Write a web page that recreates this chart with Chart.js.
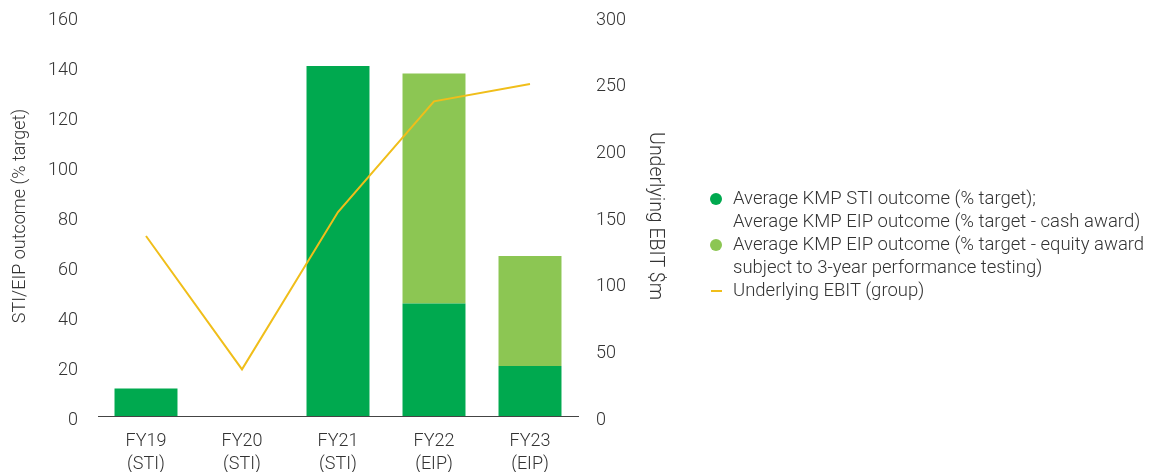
<!DOCTYPE html>
<html>
<head>
<meta charset="utf-8">
<script src="https://cdn.jsdelivr.net/npm/chart.js@4.4.1/dist/chart.umd.min.js"></script>
<style>
  html, body { margin: 0; padding: 0; background: #fff; }
  #wrap { position: relative; width: 1150px; height: 472px; overflow: hidden; }
  #c { position: absolute; left: 0; top: 0; }
  #legend { position: absolute; left: 708px; top: 187px; font-family: Roboto, "Liberation Sans", sans-serif; font-weight: 300; font-size: 18.5px; color: #333; line-height: 23px; white-space: nowrap; }
  .item { position: relative; padding-left: 25px; }
  .dot { position: absolute; left: 2px; top: 6px; width: 12px; height: 12px; border-radius: 50%; }
  .dash { position: absolute; left: 3px; top: 11px; width: 11px; height: 2px; }
</style>
</head>
<body>
<div id="wrap">
  <canvas id="c" width="1150" height="472"></canvas>
  <div id="legend"></div>
</div>
<script>
const categories = [["FY19", "(STI)"], ["FY20", "(STI)"], ["FY21", "(STI)"], ["FY22", "(EIP)"], ["FY23", "(EIP)"]];
const cashOutcome = [11, 0, 140, 45, 20];
const equityOutcome = [0, 0, 0, 92, 44];
const ebit = [135, 35, 153, 236, 249];
const seriesNames = [
  ["Average KMP STI outcome (% target);", "Average KMP EIP outcome (% target - cash award)"],
  ["Average KMP EIP outcome (% target - equity award", "subject to 3-year performance testing)"],
  ["Underlying EBIT (group)"]
];
const leftTitle = "STI/EIP outcome (% target)";
const rightTitle = "Underlying EBIT $m";

const colors = { dark: "#00A94F", light: "#8CC653", line: "#F0BE1A", text: "#333333", axis: "#444444" };
const fontFamily = 'Roboto, "Liberation Sans", sans-serif';

Chart.defaults.font.family = fontFamily;
Chart.defaults.font.weight = 300;
Chart.defaults.color = colors.text;

new Chart(document.getElementById("c"), {
  data: {
    labels: categories,
    datasets: [
      { type: "line", label: seriesNames[2].join(" "), data: ebit, yAxisID: "y1", borderColor: colors.line, borderWidth: 2, pointRadius: 0, tension: 0, fill: false, order: 0 },
      { type: "bar", label: seriesNames[0].join(" "), data: cashOutcome, backgroundColor: colors.dark, yAxisID: "y", stack: "s", order: 1, categoryPercentage: 1, barPercentage: 0.656 },
      { type: "bar", label: seriesNames[1].join(" "), data: equityOutcome, backgroundColor: colors.light, yAxisID: "y", stack: "s", order: 1, categoryPercentage: 1, barPercentage: 0.656 }
    ]
  },
  options: {
    responsive: false,
    animation: false,
    layout: { padding: { top: 16, right: 472, left: 0, bottom: 0 } },
    plugins: { legend: { display: false }, tooltip: { enabled: false } },
    scales: {
      x: {
        stacked: true,
        grid: { display: false, drawTicks: false },
        border: { display: true, color: colors.axis, width: 1 },
        ticks: { font: { size: 18, lineHeight: 1.28 }, padding: 14, maxRotation: 0, color: colors.text },
        afterFit: (s) => { s.height = 56; s.paddingLeft = 0; s.paddingRight = 0; }
      },
      y: {
        position: "left",
        stacked: true,
        min: 0, max: 160,
        grid: { display: false, drawTicks: false },
        border: { display: false },
        ticks: { stepSize: 20, font: { size: 18 }, padding: 20, labelOffset: 4, color: colors.text },
        title: { display: true, text: leftTitle, font: { size: 18 }, padding: { top: 10, bottom: 0 }, color: colors.text },
        afterFit: (s) => { s.width = 98; s.paddingTop = 0; s.paddingBottom = 0; }
      },
      y1: {
        position: "right",
        min: 0, max: 300,
        grid: { display: false, drawTicks: false },
        border: { display: false },
        ticks: { stepSize: 50, font: { size: 18 }, padding: 18, labelOffset: 4, color: colors.text },
        title: { display: true, text: rightTitle, font: { size: 19.5 }, padding: { top: 11, bottom: 0 }, color: colors.text },
        afterFit: (s) => { s.width = 100; s.paddingTop = 0; s.paddingBottom = 0; }
      }
    }
  }
});

const legendColors = [colors.dark, colors.light, colors.line];
const legendEl = document.getElementById("legend");
seriesNames.forEach((lines, i) => {
  const item = document.createElement("div");
  item.className = "item";
  const mark = document.createElement("span");
  mark.className = i === 2 ? "dash" : "dot";
  mark.style.background = legendColors[i];
  item.appendChild(mark);
  lines.forEach((t) => {
    const d = document.createElement("div");
    d.textContent = t;
    item.appendChild(d);
  });
  legendEl.appendChild(item);
});
</script>
</body>
</html>
